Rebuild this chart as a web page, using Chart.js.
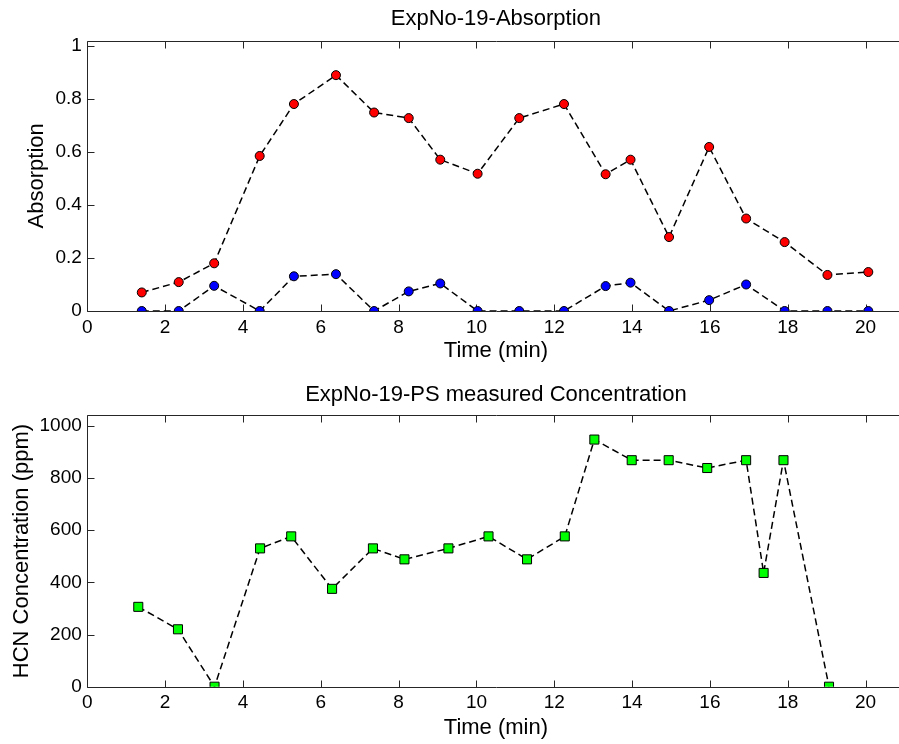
<!DOCTYPE html>
<html>
<head>
<meta charset="utf-8">
<title>ExpNo-19</title>
<script src="https://cdn.jsdelivr.net/npm/chart.js@4"></script>
<style>
  html, body { margin: 0; padding: 0; background: #fff; overflow: hidden; }
  #wrap { position: relative; width: 899px; height: 744px; overflow: hidden; }
  canvas { position: absolute; left: 0; }
  #abs-chart { top: 0; }
  #hcn-chart { top: 372px; }
</style>
</head>
<body>
<div id="wrap">
  <canvas id="abs-chart" width="920" height="372"></canvas>
  <canvas id="hcn-chart" width="920" height="372"></canvas>
</div>
<script>
// ── DATA ─────────────────────────────────────
const absTime = [1.40, 2.35, 3.26, 4.43, 5.31, 6.39, 7.37, 8.26, 9.07, 10.03,
                 11.10, 12.25, 13.32, 13.96, 14.95, 15.98, 16.93, 17.92, 19.02, 20.07];
const absRed  = [0.070, 0.109, 0.180, 0.585, 0.781, 0.890, 0.749, 0.728, 0.571, 0.518,
                 0.728, 0.781, 0.516, 0.571, 0.279, 0.619, 0.349, 0.260, 0.136, 0.147];
const absBlue = [0, 0, 0.095, 0, 0.131, 0.139, 0, 0.074, 0.104, 0,
                 0, 0, 0.094, 0.107, 0, 0.041, 0.100, 0, 0, 0];

const hcnTime = [1.31, 2.33, 3.27, 4.44, 5.24, 6.29, 7.34, 8.15, 9.28, 10.31,
                 11.30, 12.27, 13.03, 13.99, 14.94, 15.93, 16.93, 17.38, 17.89, 19.06];
const hcnConc = [306, 220, 0, 530, 576, 375, 530, 488, 530, 576,
                 488, 576, 947, 868, 868, 838, 868, 436, 868, 0];

// tick labels
const timeTicks = [0, 2, 4, 6, 8, 10, 12, 14, 16, 18, 20];
const absTicks  = [0, 0.2, 0.4, 0.6, 0.8, 1];
const hcnTicks  = [0, 200, 400, 600, 800, 1000];

const absTitle = 'ExpNo-19-Absorption';
const hcnTitle = 'ExpNo-19-PS measured Concentration';

const FONT = '"Liberation Sans", Arial, Helvetica, sans-serif';

// ── FRAME: box, inward ticks, title ─────────
const framePlugin = {
  id: 'frame',
  beforeDatasetsDraw(chart) {
    const { ctx, chartArea: a, scales } = chart;
    const len = 7;
    ctx.save();
    ctx.strokeStyle = '#262626';
    ctx.lineWidth = 1;
    ctx.beginPath();
    const L = Math.round(a.left) + 0.5, R = Math.round(a.right) + 0.5;
    const T = Math.round(a.top) + 0.5, B = Math.round(a.bottom) + 0.5;
    ctx.moveTo(R, B); ctx.lineTo(L, B); ctx.lineTo(L, T); ctx.lineTo(R, T);
    scales.x.ticks.forEach(t => {
      const px = Math.round(scales.x.getPixelForValue(t.value)) + 0.5;
      ctx.moveTo(px, B); ctx.lineTo(px, B - len);
      ctx.moveTo(px, T); ctx.lineTo(px, T + len);
    });
    scales.y.ticks.forEach(t => {
      const py = Math.round(scales.y.getPixelForValue(t.value)) + 0.5;
      ctx.moveTo(L, py); ctx.lineTo(L + len, py);
    });
    ctx.stroke();
    ctx.restore();
  },
  afterDraw(chart, args, opts) {
    const { ctx, chartArea: a } = chart;
    ctx.save();
    ctx.fillStyle = '#000';
    ctx.font = '22px ' + FONT;
    ctx.textAlign = 'center';
    ctx.textBaseline = 'middle';
    ctx.fillText(opts.text, (a.left + a.right) / 2, opts.y);
    ctx.restore();
  }
};

function lineSet(xs, ys, fill, style, radius) {
  return {
    data: xs.map((x, i) => ({ x, y: ys[i] })),
    borderColor: '#000',
    borderWidth: 1.5,
    borderDash: [7, 4],
    tension: 0,
    pointStyle: style,
    pointRadius: radius,
    pointBackgroundColor: fill,
    pointBorderColor: '#000',
    pointBorderWidth: 1
  };
}

function makeChart(id, cfg) {
  return new Chart(document.getElementById(id), {
    type: 'line',
    data: { datasets: cfg.datasets },
    plugins: [framePlugin],
    options: {
      responsive: false,
      animation: false,
      layout: { padding: { top: cfg.padTop, right: 15.5, bottom: 0, left: 0 } },
      plugins: {
        legend: { display: false },
        tooltip: { enabled: false },
        frame: { text: cfg.title, y: cfg.titleY }
      },
      scales: {
        x: {
          type: 'linear', min: 0, max: 21,
          grid: { display: false, drawTicks: false },
          border: { display: false },
          ticks: {
            autoSkip: false, maxRotation: 0,
            color: '#000', font: { family: FONT, size: 19 }, padding: 5,
            callback: v => String(v)
          },
          afterBuildTicks: s => { s.ticks = timeTicks.map(v => ({ value: v })); },
          title: {
            display: true, text: 'Time (min)', color: '#000',
            font: { family: FONT, size: 22 }, padding: { top: 0, bottom: cfg.xTitlePad }
          },
          afterFit: s => { s.height = cfg.xHeight; }
        },
        y: {
          type: 'linear', min: 0, max: cfg.yMax,
          grid: { display: false, drawTicks: false },
          border: { display: false },
          ticks: {
            autoSkip: false,
            color: '#000', font: { family: FONT, size: 19 }, padding: 5.5,
            callback: v => String(v)
          },
          afterBuildTicks: s => { s.ticks = cfg.yTicks.map(v => ({ value: v })); },
          title: {
            display: true, text: cfg.yLabel, color: '#000',
            font: { family: FONT, size: 22 }, padding: { top: cfg.yTitlePad, bottom: 0 }
          },
          afterFit: s => { s.width = 87.3; }
        }
      }
    }
  });
}

makeChart('abs-chart', {
  title: absTitle, titleY: 18.5,
  padTop: 40.7, xHeight: 61, xTitlePad: 7.8,
  yMax: 1.02, yTicks: absTicks, yLabel: 'Absorption', yTitlePad: 23.5,
  datasets: [
    lineSet(absTime, absRed, '#ff0000', 'circle', 4.5),
    lineSet(absTime, absBlue, '#0000ff', 'circle', 4.5)
  ]
});

makeChart('hcn-chart', {
  title: hcnTitle, titleY: 22.7,
  padTop: 43.3, xHeight: 57.3, xTitlePad: 3.1,
  yMax: 1040, yTicks: hcnTicks, yLabel: 'HCN Concentration (ppm)', yTitlePad: 8.8,
  datasets: [
    lineSet(hcnTime, hcnConc, '#00ff00', 'rect', 6.4)
  ]
});
</script>
</body>
</html>
